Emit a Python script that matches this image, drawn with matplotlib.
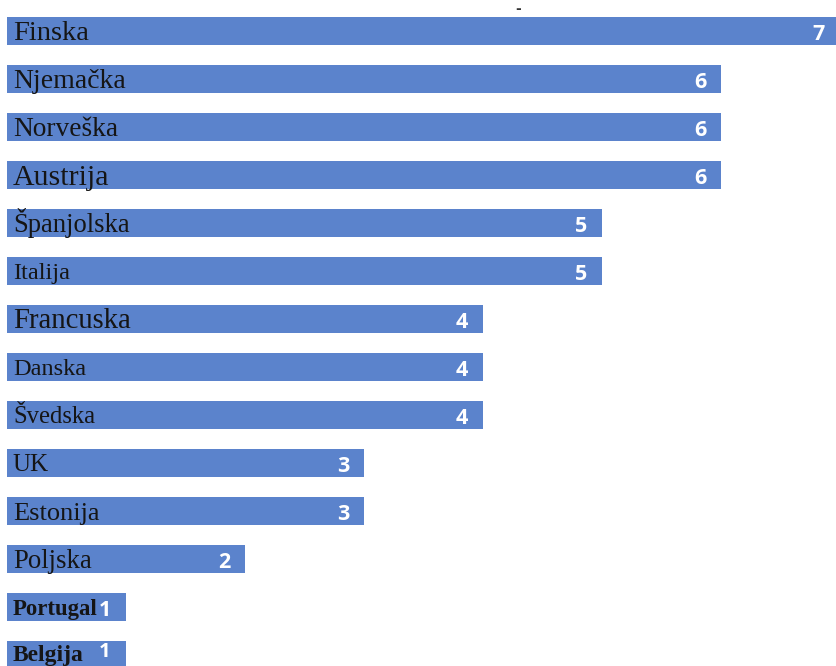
import matplotlib
matplotlib.use("Agg")
import matplotlib.pyplot as plt
import numpy as np

# countries from top to bottom and their counts
countries = ["Finska", "Njemačka", "Norveška", "Austrija", "Španjolska", "Italija",
             "Francuska", "Danska", "Švedska", "UK", "Estonija", "Poljska",
             "Portugal", "Belgija"]
counts = [7, 6, 6, 6, 5, 5, 4, 4, 4, 3, 3, 2, 1, 1]

# label font sizes (the original labels were not uniform)
label_sizes = [20.5, 20, 19.7, 21.5, 19.2, 17.5, 20.6, 17.5, 17.7, 18, 19, 19.3, 16.4, 17]
label_bold = [False] * 12 + [True, True]

bar_color = "#5B83CC"
dpi = 100
px_per_unit_y = 48.0

fig = plt.figure(figsize=(8.37, 6.66), dpi=dpi)
ax = fig.add_axes([0, 0, 1, 1])

y = np.arange(len(countries))
ax.barh(y, counts, height=0.585, color=bar_color, left=0)

ax.set_xlim(-7 / 119, 837 / 119 - 7 / 119)
ax.set_ylim(-31 / px_per_unit_y + 666 / px_per_unit_y, -31 / px_per_unit_y)
ax.axis("off")

last = len(countries) - 1
for i, (name, val) in enumerate(zip(countries, counts)):
    size = label_sizes[i]
    # put the cap height in the middle of the bar
    cap_px = 0.662 * size / 72 * dpi
    yb = i + (cap_px / 2) / px_per_unit_y
    if i == last:
        yb -= 0.03
    ax.text(0.05, yb, name, fontsize=size, family="Liberation Serif",
            fontweight="bold" if label_bold[i] else "normal",
            color="#151515", ha="left", va="baseline")
    # bottom bar is cut by the image edge, keep its number inside
    yv = i - 0.06 if i == last else i + 0.07
    ax.text(val - 21 / 119, yv, str(val), fontsize=15.5 if i != last else 14.5,
            family="Open Sans", fontweight="bold", color="white",
            ha="center", va="center")

fig.text(518 / 837, 1 - 9 / 666, "-", fontsize=10, fontweight="bold", color="#333333",
         ha="center", va="center")

fig.savefig("out.png", dpi=dpi)
